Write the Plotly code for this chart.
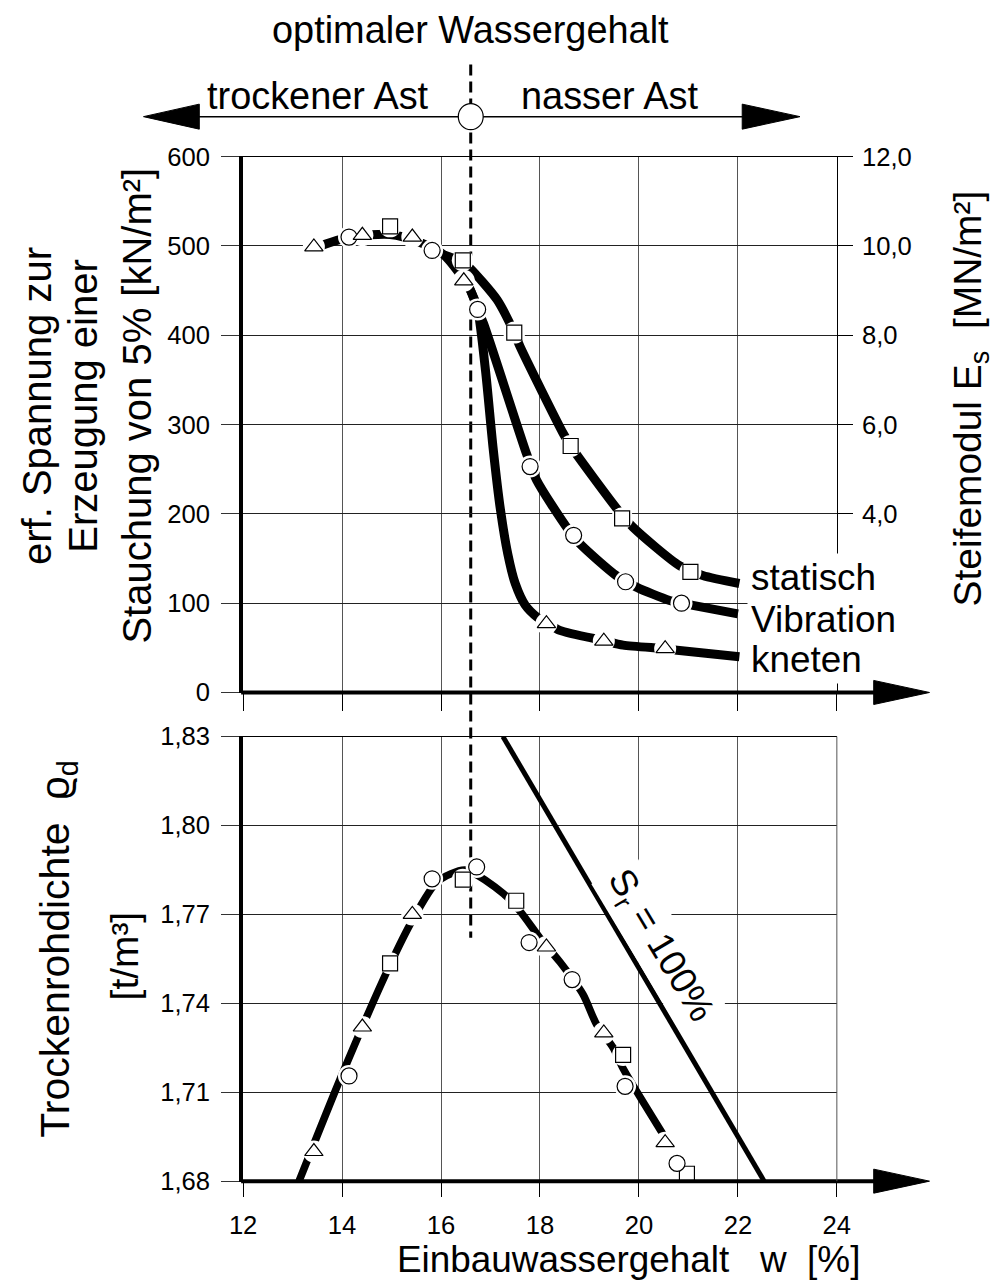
import plotly.graph_objects as go

# The photographed page is scaled/offset slightly; work in reference-image
# pixels and convert to figure coordinates.
AX, SX, AY, SY = 12.0, 0.976, 14.5, 0.977
W, H = 1010, 1296
FS = 1 / SX
def px(x): return ((x - AX) / SX) / W
def py(y): return 1 - ((y - AY) / SY) / H
def fs(s): return round(s * FS, 1)

FONT = "Liberation Sans, Arial, sans-serif"

# ---------------- data ----------------
W_OPT = 16.6          # optimaler Wassergehalt [%]
X_TICKS = [12, 14, 16, 18, 20, 22, 24]

# upper diagram: erf. Spannung [kN/m²] vs. w [%] - measured points
stat_w = [14.97, 16.44, 17.48, 18.62, 19.66, 21.04]
stat_s = [522, 484, 403, 276, 195, 135]
vib_w = [14.14, 15.82, 16.74, 17.80, 18.68, 19.73, 20.86]
vib_s = [510, 495, 429, 253, 176, 124, 100]
kne_w = [13.43, 14.41, 15.42, 16.46, 18.13, 19.29, 20.53]
kne_s = [499, 512, 510, 461, 77, 57.5, 49]

# upper diagram: drawn curves
dry_w = [13.5, 13.97, 14.58, 14.97, 15.25, 15.62, 16.06, 16.39]
dry_s = [499, 507.5, 512.5, 513, 510, 503, 490, 468]
stat_cw = [16.06, 16.44, 16.59, 17.13, 17.48, 17.6, 18.47, 18.62, 19.58, 19.88, 20.82, 21.29, 22.03]
stat_cs = [490, 482, 475, 440, 403, 387, 290, 276, 204, 185, 142, 131, 122]
vib_cw = [16.39, 16.59, 16.74, 16.86, 17.73, 17.93, 18.54, 18.8, 19.54, 19.95, 20.62, 21.09, 22.0]
vib_cs = [468, 451, 429, 413, 267, 238, 185, 167, 131, 118, 103, 97.5, 88]
kne_cw = [16.39, 16.59, 16.74, 16.9, 17.05, 17.2, 17.35, 17.5, 17.7, 17.95, 18.13, 18.4, 19.29, 19.68, 20.53, 20.82, 22.03]
kne_cs = [468, 451, 429, 360, 275, 205, 155, 122, 98, 84, 78, 69.5, 58, 53, 49, 47, 40]

Y1_TICKS = [0, 100, 200, 300, 400, 500, 600]
Y2_TICKS = [4, 6, 8, 10, 12]

# lower diagram: Trockenrohdichte [t/m³] vs. w [%] - measured points
b_tri_w = [13.43, 14.41, 15.42, 18.13, 19.29, 20.53]
b_tri_r = [1.690, 1.732, 1.770, 1.759, 1.730, 1.693]
b_cir_w = [14.14, 15.82, 16.72, 17.78, 18.65, 19.72, 20.77]
b_cir_r = [1.7155, 1.782, 1.786, 1.7605, 1.748, 1.712, 1.686]
b_sq_w = [14.97, 16.44, 17.52, 19.68, 20.97]
b_sq_r = [1.7535, 1.7817, 1.7746, 1.7226, 1.6825]

b_cw = [13.13, 14.0, 14.97, 15.42, 15.92, 16.49, 17.26, 17.6, 18.0, 18.4, 18.87, 19.14, 19.48, 19.68, 20.48]
b_cr = [1.680, 1.716, 1.753, 1.768, 1.781, 1.785, 1.777, 1.771, 1.762, 1.754, 1.743, 1.733, 1.725, 1.718, 1.696]

sr_w = [17.25, 22.53]
sr_r = [1.83, 1.68]

Y3_TICKS = [1.68, 1.71, 1.74, 1.77, 1.80, 1.83]

# ---------------- figure ----------------
fig = go.Figure()

def curve(xs, ys, xa, ya, width=9, shape="spline"):
    fig.add_trace(go.Scatter(x=xs, y=ys, mode="lines", xaxis=xa, yaxis=ya,
                             line=dict(color="black", width=width, shape=shape, smoothing=0.7),
                             hoverinfo="skip", showlegend=False))

def halo(xs, ys, xa, ya, size):
    fig.add_trace(go.Scatter(x=xs, y=ys, mode="markers", xaxis=xa, yaxis=ya,
                             marker=dict(symbol="circle", size=size, color="white",
                                         line=dict(width=0)),
                             hoverinfo="skip", showlegend=False))

def markers(xs, ys, xa, ya, symbol, size):
    fig.add_trace(go.Scatter(x=xs, y=ys, mode="markers", xaxis=xa, yaxis=ya,
                             marker=dict(symbol=symbol, size=size, color="white",
                                         line=dict(color="black", width=1.2)),
                             hoverinfo="skip", showlegend=False))

# upper curves
curve(kne_cw, kne_cs, "x", "y")
curve(vib_cw, vib_cs, "x", "y")
curve(stat_cw, stat_cs, "x", "y")
curve(dry_w, dry_s, "x", "y")
# lower curves
curve(b_cw, b_cr, "x2", "y3", width=7.5)
curve(sr_w, sr_r, "x2", "y3", width=5, shape="linear")

for xs, ys, xa, ya in [(stat_w, stat_s, "x", "y"), (vib_w, vib_s, "x", "y"), (kne_w, kne_s, "x", "y"),
                       (b_tri_w, b_tri_r, "x2", "y3"), (b_cir_w, b_cir_r, "x2", "y3"), (b_sq_w, b_sq_r, "x2", "y3")]:
    halo(xs, ys, xa, ya, 22)

markers(stat_w, stat_s, "x", "y", "square", 15)
markers(vib_w, vib_s, "x", "y", "circle", 16)
markers(kne_w, kne_s, "x", "y", "triangle-up", 16)
markers(b_sq_w, b_sq_r, "x2", "y3", "square", 15)
markers(b_cir_w, b_cir_r, "x2", "y3", "circle", 16)
markers(b_tri_w, b_tri_r, "x2", "y3", "triangle-up", 16)

# helper (invisible) trace so that the right-hand E_s axis is drawn
fig.add_trace(go.Scatter(x=[None], y=[None], xaxis="x", yaxis="y2", mode="lines",
                         hoverinfo="skip", showlegend=False))

X_DOM = [px(242), px(838)]
TOP_DOM = [py(692), py(157)]
BOT_DOM = [py(1180), py(736)]
tickfont = dict(family=FONT, size=fs(25), color="black")

common_x = dict(range=[12, 24], tickvals=X_TICKS, domain=X_DOM, showgrid=True, gridcolor="#555",
                gridwidth=1, zeroline=False, showline=True, linecolor="black", linewidth=1,
                mirror=True, ticks="outside", tickcolor="black", tickwidth=1, tickfont=tickfont)

fig.update_layout(
    width=W, height=H, margin=dict(l=0, r=0, t=0, b=0),
    paper_bgcolor="white", plot_bgcolor="rgba(0,0,0,0)",
    separators=",.", showlegend=False,
    xaxis=dict(**common_x, anchor="y", showticklabels=False, ticklen=18),
    xaxis2=dict(**common_x, anchor="y3", showticklabels=True, ticklen=15, ticklabelstandoff=6),
    yaxis=dict(range=[0, 600], tickvals=Y1_TICKS, domain=TOP_DOM, anchor="x", showgrid=True,
               gridcolor="#222", gridwidth=1, zeroline=False, showline=True, linecolor="black",
               linewidth=4, ticks="outside", ticklen=18, tickcolor="#333", tickwidth=1,
               tickfont=tickfont, ticklabelstandoff=6),
    yaxis2=dict(range=[0, 12], tickvals=Y2_TICKS, tickformat=".1f", overlaying="y", side="right",
                anchor="x", showgrid=False, zeroline=False, showline=True, linecolor="black",
                linewidth=1, ticks="outside", ticklen=15, tickcolor="black", tickwidth=1,
                tickfont=tickfont, ticklabelstandoff=4),
    yaxis3=dict(range=[1.68, 1.83], tickvals=Y3_TICKS, tickformat=".2f", domain=BOT_DOM, anchor="x2",
                showgrid=True, gridcolor="#222", gridwidth=1, zeroline=False, showline=True,
                linecolor="black", linewidth=4, ticks="outside", ticklen=18, tickcolor="#333",
                tickwidth=1, tickfont=tickfont, ticklabelstandoff=6),
)

def ppath(points):
    return "M " + " L ".join(f"{px(x):.5f},{py(y):.5f}" for x, y in points) + " Z"

shapes = []
# optimum dashed line
shapes.append(dict(type="line", xref="x", yref="paper", x0=W_OPT, x1=W_OPT, y0=py(65), y1=py(937),
                   line=dict(color="black", width=3, dash="11px,6px"), layer="below"))
# top double arrow
shapes.append(dict(type="line", xref="paper", yref="paper", x0=px(196), x1=px(745), y0=py(117), y1=py(117),
                   line=dict(color="black", width=1.5)))
shapes.append(dict(type="path", xref="paper", yref="paper", path=ppath([(142, 117), (198, 104.5), (198, 129.5)]),
                   fillcolor="black", line=dict(color="black", width=1)))
shapes.append(dict(type="path", xref="paper", yref="paper", path=ppath([(801, 117), (743, 104.5), (743, 129.5)]),
                   fillcolor="black", line=dict(color="black", width=1)))
shapes.append(dict(type="circle", xref="paper", yref="paper", x0=px(458), x1=px(483), y0=py(104), y1=py(130),
                   fillcolor="white", line=dict(color="black", width=1.2)))
# x-axis arrows
for yy in (692, 1180):
    shapes.append(dict(type="line", xref="paper", yref="paper", x0=px(240), x1=px(880), y0=py(yy), y1=py(yy),
                       line=dict(color="black", width=4)))
    shapes.append(dict(type="path", xref="paper", yref="paper",
                       path=ppath([(931, yy), (875, yy - 12), (875, yy + 12)]),
                       fillcolor="black", line=dict(color="black", width=1)))
# right border lower diagram
shapes.append(dict(type="line", xref="paper", yref="paper", x0=px(838), x1=px(838), y0=py(736), y1=py(1180),
                   line=dict(color="#555", width=1)))
fig.update_layout(shapes=shapes)

def ann(text, x, y, size, angle=0, xanchor="center", bg=None):
    d = dict(text=text, x=px(x), y=py(y), xref="paper", yref="paper", showarrow=False,
             xanchor=xanchor, yanchor="middle", textangle=angle,
             font=dict(family=FONT, size=fs(size), color="black"))
    if bg:
        d.update(bgcolor=bg, borderpad=3)
    return d

annotations = [
    ann("optimaler Wassergehalt", 470, 30, 37),
    ann("trockener Ast", 317, 96, 37),
    ann("nasser Ast", 610, 96, 37),
    ann("statisch", 748, 577, 36, xanchor="left", bg="white"),
    ann("Vibration", 748, 619, 36, xanchor="left", bg="white"),
    ann("kneten", 748, 659, 36, xanchor="left", bg="white"),
    ann("erf. Spannung zur", 35, 406, 39, angle=-90),
    ann("Erzeugung einer", 81, 406, 39, angle=-90),
    ann("Stauchung von 5% [kN/m²]", 136, 406, 39, angle=-90),
    ann("Steifemodul E<sub>s</sub>\u00a0\u00a0[MN/m²]", 972, 398, 38, angle=-90),
    ann("Trockenrohdichte\u00a0\u00a0ϱ<sub>d</sub>", 56, 948, 40, angle=-90),
    ann("[t/m³]", 123, 955, 38, angle=-90),
    ann("Einbauwassergehalt\u00a0\u00a0\u00a0w\u00a0\u00a0[%]", 629, 1258, 36),
    ann("S<sub>r</sub> = 100%", 660, 945, 36, angle=59, bg="white"),
]
fig.update_layout(annotations=annotations)

fig.write_html("out.html")
